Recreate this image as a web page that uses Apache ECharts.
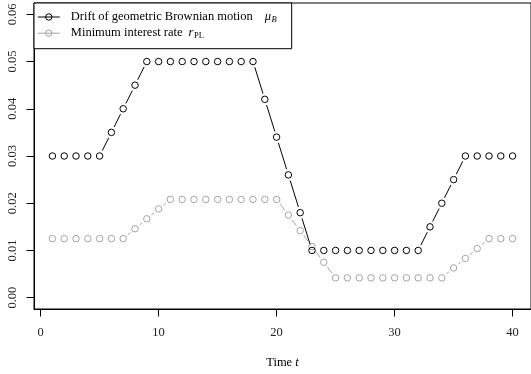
<!DOCTYPE html>
<html>
<head>
<meta charset="utf-8">
<script src="https://cdn.jsdelivr.net/npm/echarts@6/dist/echarts.min.js"></script>
<style>html,body{margin:0;padding:0;background:#fff;}#c{width:531px;height:374px;}</style>
</head>
<body>
<div id="c"></div>
<script>
// ---- data ----
const timeT = [1,2,3,4,5,6,7,8,9,10,11,12,13,14,15,16,17,18,19,20,21,22,23,24,25,26,27,28,29,30,31,32,33,34,35,36,37,38,39,40];
const driftMu = [0.03,0.03,0.03,0.03,0.03,0.035,0.04,0.045,
  0.05,0.05,0.05,0.05,0.05,0.05,0.05,0.05,0.05,0.05,
  0.042,0.034,0.026,0.018,
  0.01,0.01,0.01,0.01,0.01,0.01,0.01,0.01,0.01,0.01,
  0.015,0.02,0.025,
  0.03,0.03,0.03,0.03,0.03];
const minRate = [0.0125,0.0125,0.0125,0.0125,0.0125,0.0125,0.0125,
  0.0146,0.0167,0.0188,
  0.0208,0.0208,0.0208,0.0208,0.0208,0.0208,0.0208,0.0208,0.0208,0.0208,
  0.0175,0.0142,0.0108,0.0075,
  0.0042,0.0042,0.0042,0.0042,0.0042,0.0042,0.0042,0.0042,0.0042,0.0042,
  0.0063,0.0083,0.0104,
  0.0125,0.0125,0.0125];
const xTicks = [0,10,20,30,40];
const yTicks = [0,0.01,0.02,0.03,0.04,0.05,0.06];

const FONT = 'Liberation Serif';
const BLACK = '#000000';
const GREY = '#a3a3a3';

function points(ys){ return timeT.map((t,i)=>[t, ys[i]]); }
function segs(ys){ const out=[]; for(let i=1;i<timeT.length;i++) out.push([timeT[i-1],ys[i-1],timeT[i],ys[i]]); return out; }

function gapRender(color){
  return function(params, api){
    const p0 = api.coord([api.value(0), api.value(1)]);
    const p1 = api.coord([api.value(2), api.value(3)]);
    const dx = p1[0]-p0[0], dy = p1[1]-p0[1];
    const len = Math.sqrt(dx*dx+dy*dy);
    const gap = 6;
    if (len <= 2*gap) return null;
    const ux = dx/len, uy = dy/len;
    return {type:'line', shape:{x1:p0[0]+ux*gap, y1:p0[1]+uy*gap, x2:p1[0]-ux*gap, y2:p1[1]-uy*gap},
      style:{stroke:color, lineWidth:1}};
  };
}

const chart = echarts.init(document.getElementById('c'), null, {renderer:'canvas'});
const richLegend = {
  t:{fontFamily:FONT, fontSize:12.5, color:'#000', padding:[0,0,0,6], lineHeight:15},
  m:{fontFamily:FONT, fontSize:12.5, fontStyle:'italic', color:'#000', padding:[0,0,0,12], lineHeight:15},
  m2:{fontFamily:FONT, fontSize:12.5, fontStyle:'italic', color:'#000', padding:[0,0,0,6], lineHeight:15},
  sb:{fontFamily:FONT, fontSize:8.5, fontStyle:'italic', color:'#000', padding:[6,0,0,0.5], lineHeight:15},
  sp:{fontFamily:FONT, fontSize:8.5, color:'#000', padding:[6,0,0,0.5], lineHeight:15}
};
chart.setOption({
  animation:false,
  grid:{left:34, top:3, width:498.5, height:306.5, show:true, borderColor:'#000', borderWidth:1, backgroundColor:'transparent'},
  legend:{
    left:34, top:3, orient:'vertical', padding:[6.5,15,8,3.3], itemGap:1.2,
    itemWidth:22, itemHeight:8,
    borderColor:'#000', borderWidth:1, backgroundColor:'#fff',
    data:[
      {name:'mu', lineStyle:{color:BLACK, width:1, opacity:1}, itemStyle:{color:'transparent', borderColor:BLACK, borderWidth:1}},
      {name:'r', lineStyle:{color:GREY, width:1, opacity:1}, itemStyle:{color:'transparent', borderColor:GREY, borderWidth:1}}
    ],
    formatter:function(n){
      return n==='mu' ? '{t|Drift of geometric Brownian motion}{m|μ}{sb|B}' : '{t|Minimum interest rate}{m2|r}{sp|PL}';
    },
    textStyle:{rich:richLegend}
  },
  xAxis:{
    type:'value', min:-0.56, max:41.56,
    name:'{a|Time }{i|t}', nameLocation:'middle', nameGap:47,
    nameTextStyle:{rich:{a:{fontFamily:FONT,fontSize:12.5,color:'#000'}, i:{fontFamily:FONT,fontSize:12.5,fontStyle:'italic',color:'#000'}}},
    axisLine:{show:true, onZero:false, lineStyle:{color:'#000', width:1}},
    axisTick:{show:true, inside:false, length:7.5, customValues:xTicks, lineStyle:{color:'#000'}},
    axisLabel:{customValues:xTicks, margin:17, fontFamily:FONT, fontSize:12.5, color:'#222'},
    splitLine:{show:false}
  },
  yAxis:{
    type:'value', min:-0.0024, max:0.0624,
    axisLine:{show:true, onZero:false, lineStyle:{color:'#000', width:1}},
    axisTick:{show:true, inside:false, length:7.5, customValues:yTicks, lineStyle:{color:'#000'}},
    axisLabel:{customValues:yTicks, rotate:90, margin:15, fontFamily:FONT, fontSize:12.5, color:'#222',
      formatter:function(v){return v.toFixed(2);}},
    splitLine:{show:false}
  },
  series:[
    {type:'custom', name:'muSeg', coordinateSystem:'cartesian2d', data:segs(driftMu), encode:{x:[0,2], y:[1,3]}, renderItem:gapRender(BLACK), silent:true},
    {type:'custom', name:'rSeg', coordinateSystem:'cartesian2d', data:segs(minRate), encode:{x:[0,2], y:[1,3]}, renderItem:gapRender(GREY), silent:true},
    {type:'line', name:'r', data:points(minRate), symbol:'circle', symbolSize:6.5, showAllSymbol:true,
      lineStyle:{width:0, opacity:0}, itemStyle:{color:'transparent', borderColor:GREY, borderWidth:1}, z:3},
    {type:'line', name:'mu', data:points(driftMu), symbol:'circle', symbolSize:6.5, showAllSymbol:true,
      lineStyle:{width:0, opacity:0}, itemStyle:{color:'transparent', borderColor:BLACK, borderWidth:1}, z:4}
  ]
});
</script>
</body>
</html>
